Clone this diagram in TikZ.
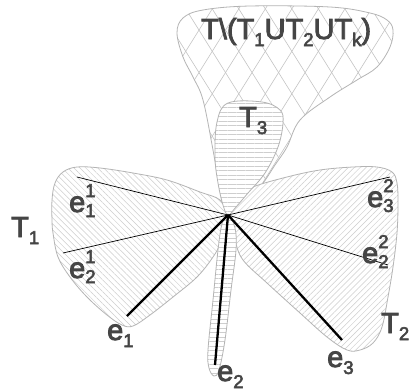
\documentclass[tikz,border=0pt]{standalone}
\usepackage{fontspec}
\setmainfont{Liberation Sans}
\newfontfamily\lblfont[FakeBold=3]{Liberation Sans}
\usetikzlibrary{patterns.meta}
\definecolor{bndc}{HTML}{B4B4B4}
\definecolor{hatc}{HTML}{CECECE}
\definecolor{crossc}{HTML}{C4C4C4}
\definecolor{txtc}{HTML}{454545}
\newcommand{\sbs}[1]{\raisebox{-7pt}{\fontsize{18.5}{18.5}\selectfont #1}}
\newcommand{\spsb}[2]{\rlap{\raisebox{15pt}{\fontsize{18.5}{18.5}\selectfont #1}}\raisebox{-5pt}{\fontsize{18.5}{18.5}\selectfont #2}}
\tikzset{
  bnd/.style={draw=bndc, line width=0.8pt},
  crossA/.style={pattern={Lines[angle=58,distance=22.5pt,line width=0.6pt]}, pattern color=crossc},
  crossB/.style={pattern={Lines[angle=-58,distance=22.5pt,line width=0.6pt]}, pattern color=crossc},
  hatchL/.style={pattern={Lines[angle=-45,distance=4.2pt,line width=0.5pt]}, pattern color=hatc},
  hatchR/.style={pattern={Lines[angle=45,distance=4.2pt,line width=0.5pt]}, pattern color=hatc},
  hatchH/.style={pattern={Lines[angle=0,distance=4.5pt,line width=0.5pt]}, pattern color=hatc},
  thinvec/.style={draw=black, line width=0.7pt},
  thickvec/.style={draw=black, line width=2.3pt},
  lbl/.style={anchor=base west, inner sep=0pt, text=txtc, font=\lblfont\fontsize{29}{29}\selectfont},
}
\begin{document}
\begin{tikzpicture}[x=1pt,y=-1pt]
\useasboundingbox (0,0) rectangle (410,391);
\fill[white] (0,0) rectangle (410,391);
% top region T\(...)
\path[bnd, preaction={fill=white}, preaction={crossA}, preaction={crossB}]
  plot[smooth cycle, tension=0.6] coordinates {(226,212) (220,190) (213,150) (203,100) (193,77) (183,57) (177,33) (183,18) (203,10) (250,6) (330,7) (370,13) (387,20) (393,30) (390,47) (377,67) (357,80) (330,97) (300,120) (287,147) (275,165) (260,187) (242,203)};
% T1
\path[bnd, preaction={fill=white}, preaction={hatchL}]
  plot[smooth cycle, tension=0.6] coordinates {(227,215) (220,200) (200,192) (167,180) (133,173) (100,168) (77,167) (63,172) (55,183) (52,200) (52,220) (53,233) (58,257) (70,277) (87,297) (107,315) (122,325) (133,326) (150,315) (173,297) (197,277) (213,257) (220,243) (222,223)};
% T2
\path[bnd, preaction={fill=white}, preaction={hatchR}]
  plot[smooth cycle, tension=0.6] coordinates {(229,215) (233,203) (240,197) (253,187) (287,177) (320,170) (353,167) (377,167) (392,172) (397,183) (398,203) (397,233) (393,267) (388,297) (382,327) (373,343) (360,350) (347,350) (327,337) (300,313) (267,283) (243,260) (235,240) (232,223)};
% T3 upper
\path[bnd, preaction={fill=white}, preaction={hatchH}]
  plot[smooth cycle, tension=0.6] coordinates {(228,215) (223,205) (218,183) (215,157) (217,122) (228,103) (262,102) (280,110) (283,123) (278,147) (265,173) (248,193) (236,207)};
% T3 stem
\path[bnd, preaction={fill=white}, preaction={hatchH}]
  plot[smooth cycle, tension=0.6] coordinates {(228,214) (222,224) (218,250) (213,300) (208,350) (209,368) (214,376) (219,370) (225,340) (231,290) (236,250) (235,228)};
% vectors
\coordinate (hub) at (228,215);
\coordinate (p11) at (77,177);
\coordinate (p21) at (63,253);
\coordinate (p32) at (390,177);
\coordinate (p22) at (388,265);
\coordinate (q1) at (127,316);
\coordinate (q2) at (215,365);
\coordinate (q3) at (342,340);
\draw[thinvec] (hub) -- (p11);
\draw[thinvec] (hub) -- (p21);
\draw[thinvec] (hub) -- (p32);
\draw[thinvec] (hub) -- (p22);
\draw[thickvec] (hub) -- (q1);
\draw[thickvec] (hub) -- (q2);
\draw[thickvec] (hub) -- (q3);
% labels
\node[lbl] (lt) at (201,39) {T\textbackslash(T\sbs{1}UT\sbs{2}UT\sbs{k})};
\node[lbl] (l3) at (239,127) {T\sbs{3}};
\node[lbl] (l1) at (11,237) {T\sbs{1}};
\node[lbl] (l2) at (381,333) {T\sbs{2}};
\node[lbl] (e11) at (69,212) {e\spsb{1}{1}};
\node[lbl] (e21) at (69,278) {e\spsb{1}{2}};
\node[lbl] (e32) at (367,207) {e\spsb{2}{3}};
\node[lbl] (e22) at (362,263) {e\spsb{2}{2}};
\node[lbl] (e1) at (107,340) {e\sbs{1}};
\node[lbl] (e2) at (217,381) {e\sbs{2}};
\node[lbl] (e3) at (327,367) {e\sbs{3}};
\end{tikzpicture}
\end{document}
